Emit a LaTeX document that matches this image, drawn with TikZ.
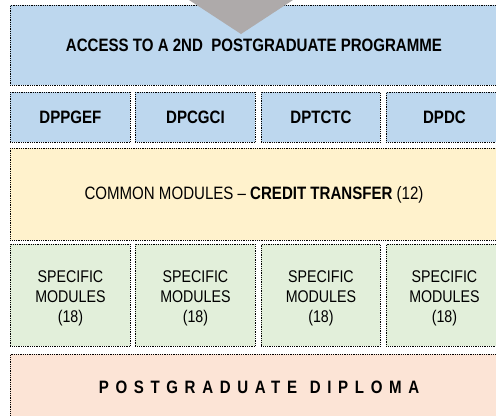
\documentclass[tikz,border=0pt]{standalone}
\usepackage{fontspec}
\setmainfont{Liberation Sans}[FakeStretch=0.84]
\newfontfamily\spacedfont{Liberation Sans}[FakeStretch=0.84,LetterSpace=37]
\definecolor{boxblue}{HTML}{BDD7EE}
\definecolor{boxyellow}{HTML}{FFF2CC}
\definecolor{boxgreen}{HTML}{E2EFDA}
\definecolor{boxpeach}{HTML}{FCE4D6}
\definecolor{arrowgray}{HTML}{AEAAAA}
\begin{document}
\begin{tikzpicture}[x=1bp,y=-1bp,
  box/.style={draw=black, line width=0.9bp, dash pattern=on 0.9bp off 0.9bp,
    inner sep=0pt, anchor=north west},
  lbl/.style={inner sep=0pt, align=center},
  bigtext/.style={font=\fontsize{18}{21}\selectfont},
  smalltext/.style={font=\fontsize{17}{20}\selectfont}]
\useasboundingbox (0,0) rectangle (496,415);
\fill[white] (0,0) rectangle (496,415);
% top box
\node[box, fill=boxblue, minimum width=488bp, minimum height=80bp] (top) at (10,5) {};
\node[lbl, bigtext] (toptext) at (254,45) {\bfseries ACCESS TO A 2ND\ \ POSTGRADUATE PROGRAMME};
\fill[arrowgray] (186,-2) -- (296,-2) -- (241,34) -- cycle;
% DP boxes
\node[box, fill=boxblue, minimum width=120bp, minimum height=50bp] (dp1) at (10,92) {};
\node[box, fill=boxblue, minimum width=120bp, minimum height=50bp] (dp2) at (135,92) {};
\node[box, fill=boxblue, minimum width=119bp, minimum height=50bp] (dp3) at (261,92) {};
\node[box, fill=boxblue, minimum width=116bp, minimum height=50bp] (dp4) at (386,92) {};
\node[lbl, bigtext] (dp1t) at (dp1.center) {\bfseries DPPGEF};
\node[lbl, bigtext] (dp2t) at (dp2.center) {\bfseries DPCGCI};
\node[lbl, bigtext] (dp3t) at (dp3.center) {\bfseries DPTCTC};
\node[lbl, bigtext] (dp4t) at (dp4.center) {\bfseries DPDC};
% common modules
\node[box, fill=boxyellow, minimum width=488bp, minimum height=92bp] (common) at (10,148) {};
\node[lbl, bigtext] (commont) at (254,195) {COMMON MODULES -- \textbf{CREDIT TRANSFER} (12)};
% specific modules
\node[box, fill=boxgreen, minimum width=120bp, minimum height=102bp] (sp1) at (10,244) {};
\node[box, fill=boxgreen, minimum width=120bp, minimum height=102bp] (sp2) at (135,244) {};
\node[box, fill=boxgreen, minimum width=119bp, minimum height=102bp] (sp3) at (261,244) {};
\node[box, fill=boxgreen, minimum width=116bp, minimum height=102bp] (sp4) at (386,244) {};
\node[lbl, smalltext, yshift=-3bp] (sp1t) at (sp1.center) {SPECIFIC\\MODULES\\(18)};
\node[lbl, smalltext, yshift=-3bp] (sp2t) at (sp2.center) {SPECIFIC\\MODULES\\(18)};
\node[lbl, smalltext, yshift=-3bp] (sp3t) at (sp3.center) {SPECIFIC\\MODULES\\(18)};
\node[lbl, smalltext, yshift=-3bp] (sp4t) at (sp4.center) {SPECIFIC\\MODULES\\(18)};
% diploma
\node[box, fill=boxpeach, minimum width=494bp, minimum height=75bp] (dipl) at (10,354) {};
\node[lbl, font=\fontsize{18}{21}\selectfont] (diplt) at (259,387) {\spacedfont\bfseries POSTGRADUATE\hspace{2bp} DIPLOMA};
\end{tikzpicture}
\end{document}
